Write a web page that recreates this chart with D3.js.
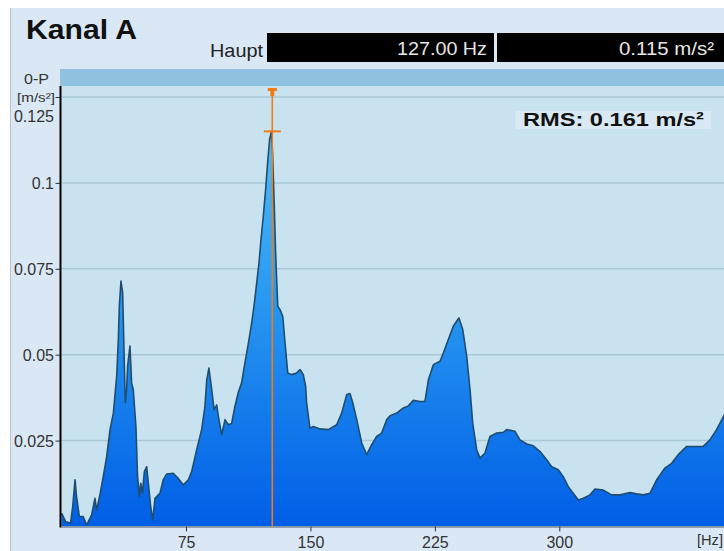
<!DOCTYPE html>
<html>
<head>
<meta charset="utf-8">
<script src="https://cdn.jsdelivr.net/npm/d3@7"></script>
<style>
  html, body { margin: 0; padding: 0; background: #ffffff; }
  svg { display: block; font-family: "Liberation Sans", Arial, sans-serif; }
</style>
</head>
<body>
<svg id="chart" width="724" height="551"></svg>
<script>
// ---- data ----
const freqs = [0, 2.4, 5.4, 6.7, 8.1, 9, 10.7, 13, 15.1, 18.1, 20.1, 21.1, 23.1, 25.1, 27.2, 29.2, 31.2, 33.2, 34.2, 34.8,
  35.8, 36.8, 37.6, 38.4, 39.2, 39.8, 41.2, 42.2, 43.2, 44.8, 45.8, 46.9, 47.7, 48.7, 49.9, 51.3, 52.7, 53.7, 54.9, 56.3,
  59.3, 61.3, 63.4, 67.3, 70.3, 73.4, 76.4, 78.4, 81.4, 84.4, 86.4, 87.5, 88.8, 90.5, 91.9, 93.5, 94.5, 96.5, 98.5, 100.5,
  102.5, 104.5, 106.5, 108.5, 110.5, 112.6, 114.6, 116.2, 117.6, 119, 120.2, 121.6, 123, 124.2, 125.4, 126.5, 127.2, 128.2, 129, 130.3,
  131.6, 133.3, 134.7, 136.3, 138.7, 141.7, 143.7, 145.7, 147.1, 147.7, 149.7, 151.7, 155.8, 160.8, 165.8, 168.8, 171.9, 173.8, 175.5, 177.9,
  180.9, 183.9, 186.9, 189.9, 192.9, 196, 198, 202, 206, 209, 212, 216, 219, 221.1, 224.1, 228.1, 230.1, 233.1, 236.1, 239.5,
  241.8, 244.2, 246.2, 247.8, 250.2, 252.2, 255.2, 258.2, 262.3, 266.2, 268.3, 273.3, 276.3, 280.4, 284.3, 288.4, 292.4, 295.4, 299.4, 302.4,
  305.4, 308.4, 311.5, 314.5, 318.5, 321.5, 326.5, 331.6, 336.6, 342.6, 346.6, 350.6, 354.7, 358.7, 363.7, 367.7, 371.7, 376.8, 382.8, 386.8,
  390.8, 394.8, 400];
const amps = [0.0039, 0.0014, 0.0010, 0.0058, 0.0136, 0.0087, 0.0029, 0.0029, 0.0004, 0.0034, 0.0082, 0.0048, 0.0092, 0.0145, 0.0204, 0.0282, 0.0330, 0.0437, 0.0544, 0.0641,
  0.0714, 0.0680, 0.0515, 0.0360, 0.0398, 0.0466, 0.0525, 0.0418, 0.0398, 0.0291, 0.0145, 0.0087, 0.0126, 0.0097, 0.0160, 0.0174, 0.0106, 0.0058, 0.0019, 0.0082,
  0.0097, 0.0136, 0.0153, 0.0155, 0.0140, 0.0121, 0.0136, 0.0160, 0.0223, 0.0282, 0.0350, 0.0427, 0.0461, 0.0398, 0.0340, 0.0354, 0.0320, 0.0267, 0.0311, 0.0296,
  0.0300, 0.0350, 0.0390, 0.0418, 0.0476, 0.0534, 0.0593, 0.0651, 0.0709, 0.0768, 0.0836, 0.0904, 0.0982, 0.1060, 0.1127, 0.1150, 0.1080, 0.0933, 0.0797, 0.0641,
  0.0632, 0.0612, 0.0534, 0.0447, 0.0442, 0.0447, 0.0457, 0.0442, 0.0408, 0.0360, 0.0286, 0.0291, 0.0284, 0.0282, 0.0296, 0.0330, 0.0384, 0.0387, 0.0360, 0.0311,
  0.0243, 0.0209, 0.0238, 0.0262, 0.0272, 0.0311, 0.0322, 0.0330, 0.0345, 0.0351, 0.0367, 0.0364, 0.0364, 0.0427, 0.0471, 0.0481, 0.0505, 0.0544, 0.0583, 0.0607,
  0.0573, 0.0495, 0.0398, 0.0301, 0.0223, 0.0199, 0.0214, 0.0262, 0.0272, 0.0274, 0.0282, 0.0277, 0.0252, 0.0240, 0.0235, 0.0218, 0.0194, 0.0174, 0.0165, 0.0145,
  0.0116, 0.0097, 0.0077, 0.0082, 0.0092, 0.0109, 0.0106, 0.0092, 0.0092, 0.0099, 0.0095, 0.0092, 0.0097, 0.0136, 0.0170, 0.0184, 0.0209, 0.0233, 0.0233, 0.0233,
  0.0252, 0.0282, 0.0330];
const yTicks = [0.025, 0.05, 0.075, 0.1, 0.125];
const yTickLabels = ["0.025", "0.05", "0.075", "0.1", "0.125"];
const xTicks = [75, 150, 225, 300];
const cursorFreq = 127;
const cursorAmp = 0.115;
const title = "Kanal A";
const cursorLabel = "Haupt";
const freqText = "127.00 Hz";
const ampText = "0.115 m/s²";
const rmsText = "RMS: 0.161 m/s²";

// ---- layout ----
const svg = d3.select("#chart");
const plotLeft = 61, plotRight = 724, plotTop = 86, plotBottom = 526.5;
const x = d3.scaleLinear().domain([0, 400]).range([61.6, 725.2]);
const y = d3.scaleLinear().domain([0, 0.125]).range([526.5, 97]);

function fitText(sel, len) {
  return sel.attr("textLength", len).attr("lengthAdjust", "spacingAndGlyphs");
}

// panel background
svg.append("rect").attr("x", 10).attr("y", 8).attr("width", 714).attr("height", 543).attr("fill", "#dae8f6");
svg.append("line").attr("x1", 10.5).attr("x2", 10.5).attr("y1", 8).attr("y2", 551).attr("stroke", "#b9c3cc").attr("stroke-width", 1);

// title
fitText(svg.append("text").attr("x", 26).attr("y", 39).attr("font-size", 28).attr("font-weight", "bold").attr("fill", "#111").text(title), 111);
fitText(svg.append("text").attr("x", 210).attr("y", 57).attr("font-size", 19).attr("fill", "#222").text(cursorLabel), 53);
svg.append("rect").attr("x", 267).attr("y", 33).attr("width", 227).attr("height", 29).attr("fill", "#000");
svg.append("rect").attr("x", 497).attr("y", 33).attr("width", 227).attr("height", 29).attr("fill", "#000");
fitText(svg.append("text").attr("x", 397).attr("y", 55).attr("font-size", 19).attr("fill", "#e6e6e6").text(freqText), 90);
fitText(svg.append("text").attr("x", 619).attr("y", 55).attr("font-size", 19).attr("fill", "#e6e6e6").text(ampText), 95);

// 0-P bar
fitText(svg.append("text").attr("x", 24).attr("y", 84).attr("font-size", 15).attr("fill", "#333").text("0-P"), 25);
svg.append("rect").attr("x", 60).attr("y", 69).attr("width", 664).attr("height", 17).attr("fill", "#8fc1e1");

// plot bg
svg.append("rect").attr("x", plotLeft).attr("y", plotTop).attr("width", plotRight - plotLeft).attr("height", plotBottom - plotTop).attr("fill", "#c8e3ef");

// grid
svg.append("g").selectAll("line").data(yTicks).join("line")
  .attr("x1", plotLeft).attr("x2", plotRight)
  .attr("y1", d => y(d)).attr("y2", d => y(d))
  .attr("stroke", "#aac9d7").attr("stroke-width", 1.5);

// gradient
const defs = svg.append("defs");
const grad = defs.append("linearGradient").attr("id", "fillGrad")
  .attr("gradientUnits", "userSpaceOnUse").attr("x1", 0).attr("x2", 0).attr("y1", plotTop).attr("y2", plotBottom);
grad.append("stop").attr("offset", "0%").attr("stop-color", "#5cc4fb");
grad.append("stop").attr("offset", "45%").attr("stop-color", "#2b9cf2");
grad.append("stop").attr("offset", "100%").attr("stop-color", "#005ee6");
defs.append("clipPath").attr("id", "clip").append("rect")
  .attr("x", plotLeft).attr("y", plotTop).attr("width", plotRight - plotLeft).attr("height", plotBottom - plotTop);

const data = freqs.map((f, i) => ({ f, a: amps[i] }));
const area = d3.area().x(d => x(d.f)).y0(y(0)).y1(d => y(d.a)).curve(d3.curveLinear);
const line = d3.line().x(d => x(d.f)).y(d => y(d.a)).curve(d3.curveLinear);
const g = svg.append("g").attr("clip-path", "url(#clip)");
g.append("path").datum(data).attr("d", area).attr("fill", "url(#fillGrad)");
g.append("path").datum(data).attr("d", line).attr("fill", "none").attr("stroke", "#1e4d70").attr("stroke-width", 1.6).attr("stroke-linejoin", "round");

// y axis
const yAxisG = svg.append("g").attr("transform", `translate(${plotLeft - 0.5},0)`)
  .call(d3.axisLeft(y).tickValues(yTicks).tickSize(5).tickFormat(""));
yAxisG.select(".domain").remove();
yAxisG.selectAll(".tick line").attr("stroke", "#333");
svg.append("line").attr("x1", plotLeft - 0.5).attr("x2", plotLeft - 0.5).attr("y1", plotTop).attr("y2", plotBottom + 1)
  .attr("stroke", "#000").attr("stroke-width", 2);
svg.append("g").selectAll("text").data(yTicks).join("text")
  .attr("x", 54)
  .attr("y", d => d === 0.125 ? y(d) + 25 : y(d) + 6)
  .attr("text-anchor", "end").attr("font-size", 16).attr("fill", "#333")
  .text((d, i) => yTickLabels[i]);
fitText(svg.append("text").attr("x", 17).attr("y", 102).attr("font-size", 13).attr("fill", "#333").text("[m/s²]"), 38);

// x axis
svg.append("line").attr("x1", plotLeft).attr("x2", plotRight).attr("y1", plotBottom + 0.5).attr("y2", plotBottom + 0.5)
  .attr("stroke", "#7d8a94").attr("stroke-width", 1.5);
const xAxisG = svg.append("g").attr("transform", `translate(0,${plotBottom})`)
  .call(d3.axisBottom(x).tickValues(xTicks).tickSize(5).tickPadding(5));
xAxisG.select(".domain").remove();
xAxisG.selectAll(".tick line").attr("stroke", "#333");
xAxisG.selectAll(".tick text").attr("font-size", 16).attr("fill", "#333").attr("font-family", "Liberation Sans, Arial, sans-serif");
fitText(svg.append("text").attr("x", 697).attr("y", 545).attr("font-size", 15).attr("fill", "#333").text("[Hz]"), 26);

// cursor
const cx = x(cursorFreq), cy = y(cursorAmp);
const orange = "#f27b12";
svg.append("line").attr("x1", cx).attr("x2", cx).attr("y1", plotTop + 2).attr("y2", plotBottom).attr("stroke", orange).attr("stroke-width", 1.6);
svg.append("rect").attr("x", cx - 4.5).attr("y", 88).attr("width", 9).attr("height", 3).attr("fill", orange);
svg.append("rect").attr("x", cx - 2).attr("y", 90).attr("width", 4).attr("height", 6).attr("fill", orange);
svg.append("line").attr("x1", cx - 8.5).attr("x2", cx + 8.5).attr("y1", cy).attr("y2", cy).attr("stroke", orange).attr("stroke-width", 2);

// RMS box
svg.append("rect").attr("x", 515).attr("y", 111).attr("width", 196).attr("height", 18).attr("fill", "#d9e9f3");
fitText(svg.append("text").attr("x", 523).attr("y", 125.5).attr("font-size", 19).attr("font-weight", "bold").attr("fill", "#111").text(rmsText), 181);
</script>
</body>
</html>
